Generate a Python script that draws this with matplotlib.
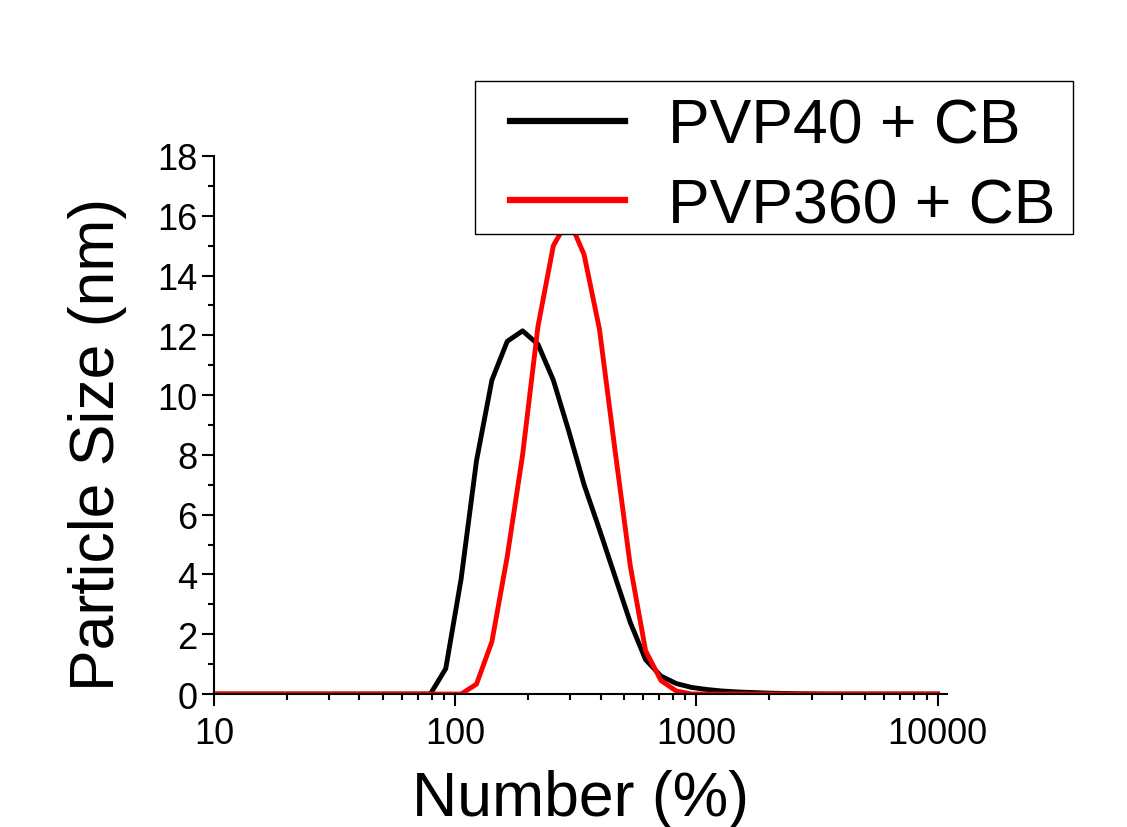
import matplotlib
matplotlib.use("Agg")
import matplotlib.pyplot as plt
from matplotlib.patches import Rectangle
from matplotlib.ticker import LogLocator, MultipleLocator, FixedLocator, NullFormatter

plt.rcParams['font.family'] = ['Liberation Sans', 'DejaVu Sans']

# size bins (log spaced)
sizes = [10, 11.7, 13.54, 15.69, 18.17, 21.04, 24.36, 28.21, 32.67, 37.84,
         43.82, 50.75, 58.77, 68.06, 78.82, 91.28, 105.7, 122.4, 141.8, 164.2,
         190.1, 220.2, 255.0, 295.3, 342.0, 396.1, 458.7, 531.2, 615.1, 712.4,
         825.0, 955.4, 1106, 1281, 1484, 1718, 1990, 2305, 2669, 3091,
         3580, 4145, 4801, 5560, 6439, 7456, 8635, 10000]

pvp40 = [0] * 14 + [0, 0.85, 3.85, 7.8, 10.5, 11.8, 12.15, 11.7, 10.5, 8.8,
                    7.0, 5.5, 3.95, 2.4, 1.15, 0.6, 0.35, 0.22, 0.15, 0.1,
                    0.07, 0.05, 0.03, 0.02, 0.01, 0.005] + [0] * 8

pvp360 = [0] * 17 + [0.33, 1.75, 4.6, 8.0, 12.3, 15.0, 15.9, 14.7, 12.2,
                     8.2, 4.3, 1.45, 0.45, 0.1, 0] + [0] * 16

labels = ['PVP40 + CB', 'PVP360 + CB']
colors = ['black', 'red']

W, H = 1127, 828
fig = plt.figure(figsize=(W / 100, H / 100), dpi=100)
ax = fig.add_axes([0.19, 0.1606, 0.650, 0.6498])

ax.plot(sizes, pvp40, color=colors[0], lw=3.5, label=labels[0])
ax.plot(sizes, pvp360, color=colors[1], lw=3.5, label=labels[1])

ax.set_xscale('log')
ax.set_xlim(10, 10900)
ax.set_ylim(0, 18)

ax.xaxis.set_major_locator(FixedLocator([10, 100, 1000, 10000]))
ax.xaxis.set_minor_locator(LogLocator(base=10, subs=range(2, 10)))
ax.xaxis.set_minor_formatter(NullFormatter())
ax.set_xticklabels(['10', '100', '1000', '10000'])
ax.yaxis.set_major_locator(MultipleLocator(2))
ax.yaxis.set_minor_locator(MultipleLocator(1))

for s in ['top', 'right']:
    ax.spines[s].set_visible(False)
for s in ['left', 'bottom']:
    ax.spines[s].set_linewidth(1.5)

ax.tick_params(which='major', direction='out', length=8.5, width=1.5, labelsize=26)
ax.tick_params(axis='x', which='major', pad=7)
ax.tick_params(which='minor', direction='out', length=4.5, width=1.5)

ax.set_xlabel('Number (%)', fontsize=45, labelpad=13)
ax.set_ylabel('Particle Size (nm)', fontsize=45, labelpad=22)
ax.yaxis.label.set_y(0.465)

# legend box drawn by hand (padding is uneven in the original)
box = Rectangle((475 / W, 1 - 235 / H), (1073 - 475) / W, 153 / H,
                transform=fig.transFigure, facecolor='white', edgecolor='black',
                lw=1.0, zorder=3)
fig.add_artist(box)

leg = fig.legend(loc='upper left', bbox_to_anchor=(510 / W, 1 - 98 / H),
                 bbox_transform=fig.transFigure, fontsize=45, frameon=False,
                 handlelength=1.84, handletextpad=0.69, borderpad=0,
                 labelspacing=0.32, borderaxespad=0)
leg.set_zorder(5)
for line in leg.get_lines():
    line.set_linewidth(4.5)

fig.savefig('out.png', dpi=100)
